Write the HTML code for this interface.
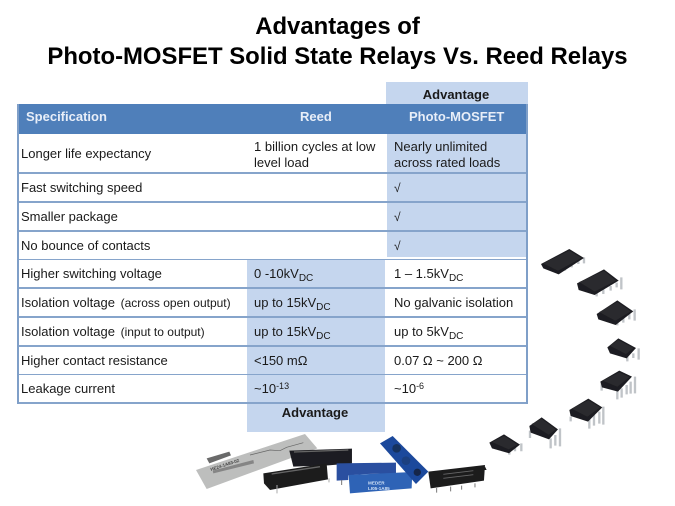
<!DOCTYPE html>
<html><head><meta charset="utf-8"><style>
html,body{margin:0;padding:0;background:#fff}
#p{position:relative;width:675px;height:506px;overflow:hidden;background:#fff;font-family:"Liberation Sans",sans-serif;color:#111}
.a{position:absolute}
.t{position:absolute;font-size:13px;line-height:16px;white-space:nowrap;color:#1a1a1a}
.h{position:absolute;font-size:13px;font-weight:bold;color:#e8eef8;line-height:16px;white-space:nowrap}
.ti{position:absolute;left:0;width:675px;text-align:center;font-weight:bold;font-size:23.9px;line-height:28px;color:#000;white-space:nowrap}
.l{position:absolute;left:17px;width:510px;height:1.5px;background:#86a4cb}
sub{font-size:10px;line-height:0;vertical-align:-3px}
sup{font-size:9px;line-height:0;vertical-align:4px}
small{font-size:12px;margin-left:2px}
.s{font-family:"DejaVu Sans",sans-serif;font-weight:200;font-size:12px}
</style></head><body><div id="p">
<div class="ti" style="top:13px">Advantages of</div>
<div class="ti" style="top:43px">Photo-MOSFET Solid State Relays Vs. Reed Relays</div>

<div class="a" style="left:386px;top:82px;width:142px;height:22px;background:#c5d6ee"></div>
<div class="a" style="left:387px;top:134px;width:139px;height:123px;background:#c5d6ee"></div>
<div class="a" style="left:247px;top:259px;width:138px;height:173px;background:#c5d6ee"></div>
<div class="a" style="left:17px;top:104px;width:510px;height:30px;background:#4f7fba"></div>

<div class="l" style="top:172px"></div>
<div class="l" style="top:201px"></div>
<div class="l" style="top:230px"></div>
<div class="l" style="top:258.5px"></div>
<div class="l" style="top:287px"></div>
<div class="l" style="top:316px"></div>
<div class="l" style="top:345px"></div>
<div class="l" style="top:373.5px"></div>
<div class="l" style="top:402px;height:2px"></div>
<div class="a" style="left:17px;top:104px;width:1.5px;height:300px;background:#7f9fc8"></div>
<div class="a" style="left:526px;top:104px;width:1.5px;height:300px;background:#7f9fc8"></div>

<div class="t" style="left:386px;top:87px;width:140px;text-align:center;font-weight:bold">Advantage</div>
<div class="t" style="left:247px;top:405px;width:136px;text-align:center;font-weight:bold">Advantage</div>
<div class="h" style="left:26px;top:109px">Specification</div>
<div class="h" style="left:300px;top:109px">Reed</div>
<div class="h" style="left:409px;top:109px">Photo-MOSFET</div>

<div class="t" style="left:21px;top:146px">Longer life expectancy</div>
<div class="t" style="left:254px;top:139px">1 billion cycles at low<br>level load</div>
<div class="t" style="left:394px;top:139px">Nearly unlimited<br>across rated loads</div>
<div class="t" style="left:21px;top:180px">Fast switching speed</div>
<div class="t s" style="left:394px;top:180px">√</div>
<div class="t" style="left:21px;top:209px">Smaller package</div>
<div class="t s" style="left:394px;top:209px">√</div>
<div class="t" style="left:21px;top:238px">No bounce of contacts</div>
<div class="t s" style="left:394px;top:238px">√</div>

<div class="t" style="left:21px;top:266px">Higher switching voltage</div>
<div class="t" style="left:254px;top:266px">0 -10kV<sub>DC</sub></div>
<div class="t" style="left:394px;top:266px">1 – 1.5kV<sub>DC</sub></div>
<div class="t" style="left:21px;top:295px">Isolation voltage <small>(across open output)</small></div>
<div class="t" style="left:254px;top:295px">up to 15kV<sub>DC</sub></div>
<div class="t" style="left:394px;top:295px">No galvanic isolation</div>
<div class="t" style="left:21px;top:324px">Isolation voltage <small>(input to output)</small></div>
<div class="t" style="left:254px;top:324px">up to 15kV<sub>DC</sub></div>
<div class="t" style="left:394px;top:324px">up to 5kV<sub>DC</sub></div>
<div class="t" style="left:21px;top:353px">Higher contact resistance</div>
<div class="t" style="left:254px;top:353px">&lt;150 mΩ</div>
<div class="t" style="left:394px;top:353px">0.07 Ω ~ 200 Ω</div>
<div class="t" style="left:21px;top:381px">Leakage current</div>
<div class="t" style="left:254px;top:381px">~10<sup>-13</sup></div>
<div class="t" style="left:394px;top:381px">~10<sup>-6</sup></div>

<svg class="a" style="left:0;top:0" width="675" height="506" viewBox="0 0 675 506">
<defs>
<filter id="b" x="-10%" y="-10%" width="120%" height="120%"><feGaussianBlur stdDeviation="0.55"/></filter>
</defs>
<g transform="translate(480 240) scale(.3333)" filter="url(#b)">
<g fill="none" stroke="#c0c4c8" stroke-width="7">
<path d="M235 92v10M255 82v10M275 72v10M295 62v10M312 52v18"/>
<path d="M350 155v14M370 148v14M392 138v14M410 128v14M424 112v36"/>
<path d="M412 240v16M430 232v16M448 222v16M464 208v34"/>
<path d="M442 350v14M460 340v14M476 325v34"/>
<path d="M365 430v22M412 450v28M425 445v28M440 435v28M452 425v36M465 410v50"/>
<path d="M272 530v14M328 530v36M342 525v32M358 515v36M370 500v54"/>
<path d="M150 572v22M212 595v30M226 585v32M240 565v54"/>
<path d="M88 632v12M105 622v12M124 610v24"/>
</g>
<g fill="#1f1f21">
<path d="M183 72L268 27L312 54L236 103L190 85Z"/>
<path d="M291 130L372 88L416 122L344 165L296 150Z"/>
<path d="M350 222L412 181L460 214L407 255L355 238Z"/>
<path d="M382 322L415 295L468 324L440 355L390 340Z"/>
<path d="M361 425L418 392L456 410L414 455L366 442Z"/>
<path d="M268 510L325 476L367 502L324 545L272 528Z"/>
<path d="M148 558L185 532L234 568L207 598L152 578Z"/>
<path d="M28 608L72 583L120 614L87 640L36 625Z"/>
</g>
<g fill="#2c2c2f">
<path d="M190 70L268 32L304 54L234 92Z"/>
<path d="M298 126L372 93L408 122L344 154Z"/>
<path d="M358 216L412 186L452 214L406 242Z"/>
<path d="M390 317L415 300L460 324L438 342Z"/>
<path d="M368 422L418 397L448 411L412 440Z"/>
<path d="M275 506L325 481L360 502L322 530Z"/>
<path d="M155 552L185 537L227 568L206 584Z"/>
<path d="M36 606L72 588L112 614L86 628Z"/>
</g>
<path d="M0 690L15 680L20 690Z" fill="#1c1c1c"/>
</g>
<g transform="translate(180 420) scale(.3333)" filter="url(#b)">
<path d="M48 150L375 42L412 85L80 207Z" fill="#bdbebd"/>
<path d="M210 105L270 90L300 92L320 82L370 68" fill="none" stroke="#666" stroke-width="2"/>
<path d="M80 115L148 95L153 106L88 130Z" fill="#6a6b6b"/>
<path d="M98 152L220 120L222 130L100 160Z" fill="#858585"/>
<path d="M328 92L516 86L516 130L445 136L340 140Z" fill="#1f1f21"/>
<path d="M342 96L505 90" stroke="#666" stroke-width="4" fill="none"/>
<path d="M250 160L440 130L444 178L270 210L252 190Z" fill="#1d1d1f"/>
<path d="M275 162L420 140" stroke="#666" stroke-width="4" fill="none"/>
<path d="M291 195v25M447 175v12" stroke="#aaa" stroke-width="3" fill="none"/>
<path d="M470 130L648 128L648 160L560 162L505 166V180L470 182Z" fill="#2b4fa0"/>
<path d="M485 180v15M630 180v12" stroke="#777" stroke-width="3" fill="none"/>
<path d="M506 165L697 156L695 205L510 220Z" fill="#2f63b6"/>
<path d="M600 70L638 48L745 155L708 192Z" fill="#1e4a9c"/>
<circle cx="650" cy="85" r="13" fill="#12305f"/>
<circle cx="712" cy="157" r="11" fill="#12264a"/>
<circle cx="678" cy="122" r="13" fill="#1a3f80"/>
<path d="M745 155L915 135L912 182L752 205Z" fill="#1c1c1e"/>
<path d="M770 204v14M812 200v14M845 197v12M885 190v12" stroke="#777" stroke-width="3" fill="none"/>
<path d="M790 163L880 152M790 175L880 164" stroke="#666" stroke-width="2.5" fill="none"/>
</g>
<text x="368" y="484.5" font-family="Liberation Sans" font-size="4.6" font-weight="bold" fill="#cfe0f5">MEDER</text>
<text x="368" y="490" font-family="Liberation Sans" font-size="4.6" font-weight="bold" fill="#cfe0f5">LI05-1A85</text>
<text x="211" y="471" font-family="Liberation Sans" font-size="4.5" font-weight="bold" fill="#444" transform="rotate(-18 211 471)">HE24-1A83-02</text>
</svg>
</div></body></html>
